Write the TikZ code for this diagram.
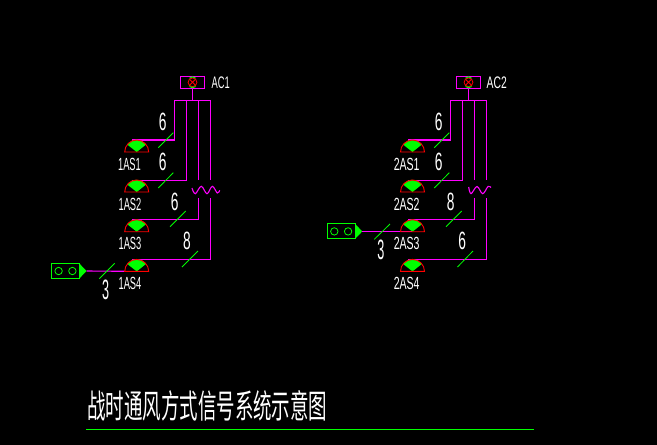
\documentclass[tikz,border=0pt]{standalone}
\usepackage{graphicx}
\usepackage{fontspec}
\setmainfont{Liberation Sans}
\newfontfamily\cjkfont{Noto Sans CJK SC}
\definecolor{mag}{RGB}{255,0,255}
\definecolor{grn}{RGB}{0,255,0}
\tikzset{
  wire/.style={draw=mag,line width=1.1pt},
  tick/.style={draw=grn,line width=0.8pt},
  lbl/.style={text=white,inner sep=0pt,font=\fontsize{17.6}{17.6}\selectfont},
  num/.style={text=white,inner sep=0pt,font=\fontsize{25}{25}\selectfont},
  bignum/.style={text=white,inner sep=0pt,font=\fontsize{28}{28}\selectfont},
  tag/.style={text=white,inner sep=0pt,font=\fontsize{16.7}{16.7}\selectfont},
  ttl/.style={text=white,inner sep=0pt,font=\cjkfont\fontsize{33}{33}\selectfont},
}
\newcommand{\thintxt}[2][0.55]{\scalebox{#1}[1]{#2}}
% icon: name, x, y of base
\newcommand{\lampicon}[3]{%
  \coordinate (#1) at (#2-5,#3-12);
  \fill[grn] (#2,#3) -- (#2-9.5,#3-7.5) arc[start angle=218,end angle=322,radius=12] -- cycle;
  \draw[red,line width=0.9pt] (#2-12,#3) arc[start angle=180,end angle=360,radius=12] -- cycle;
}
\newcommand{\acbox}[3]{%
  \node[draw=mag,line width=1.1pt,minimum width=24.4pt,minimum height=12pt,inner sep=0pt] (#1) at (#2,#3) {};
  \draw[red,line width=0.8pt] (#2,#3) circle[radius=4.4pt];
  \draw[red,line width=0.8pt] (#2-3,#3-3) -- (#2+3,#3+3) (#2-3,#3+3) -- (#2+3,#3-3);
  \draw[grn,line width=1pt] (#2-3,#3-4.2) arc[start angle=225,end angle=315,radius=4.3];
  \draw[grn,line width=1pt] (#2-3,#3+4.2) arc[start angle=135,end angle=45,radius=4.3];
}
\newcommand{\sigbox}[3]{%
  \node[draw=grn,line width=1.1pt,minimum width=28.4pt,minimum height=15pt,inner sep=0pt] (#1) at (#2,#3) {};
  \draw[grn,line width=0.8pt] (#2-7,#3) circle[radius=3.7pt] (#2+6.8,#3) circle[radius=3.7pt];
  \fill[grn] (#2+14.2,#3-7) -- (#2+21,#3) -- (#2+14.2,#3+7) -- cycle;
  \coordinate (#1tip) at (#2+21,#3);
}
\begin{document}
\begin{tikzpicture}[x=1pt,y=-1pt]
\useasboundingbox (0,0) rectangle (657,445);
\fill[black] (0,0) rectangle (657,445);

%% left panel
\acbox{acA}{192.5}{82.3}
\coordinate (busA1) at (174.3,100.3);
\coordinate (busA2) at (186.3,100.3);
\coordinate (busA3) at (198.3,100.3);
\coordinate (busA4) at (210.3,100.3);
\coordinate (stemA) at (192.5,100.3);
\coordinate (wA3t) at (198.3,180.3);
\coordinate (wA4t) at (210.3,180.3);
\coordinate (wA3b) at (198.3,198);
\coordinate (wA4b) at (210.3,198);
\coordinate (aA) at (131.7,140);
\coordinate (bA) at (131.7,180.3);
\coordinate (cA) at (131.7,219.5);
\coordinate (dA) at (131.7,259.4);
\draw[wire] (acA.south) -- (stemA);
\draw[wire] (busA1) -- (busA4);
\draw[wire] (busA1) |- (aA);
\draw[wire] (busA2) |- (bA);
\draw[wire] (busA3) -- (wA3t);
\draw[wire] (busA4) -- (wA4t);
\draw[wire] (wA3b) |- (cA);
\draw[wire] (wA4b) |- (dA);
\draw[wire] plot[smooth,tension=0.6] coordinates {(192,188) (195.3,193.7) (201.3,186.3) (207,193.7) (212.3,186.3) (217.3,193) (219.7,190.3)};
\sigbox{sA}{65.6}{271}
\coordinate (eA) at (124.7,271.3);
\draw[wire] (sAtip) -- (eA);
\lampicon{iaA}{136.7}{152}
\lampicon{ibA}{136.7}{192}
\lampicon{icA}{136.7}{231.7}
\lampicon{idA}{136.7}{271.4}
\draw[tick] (158.3,147.7) -- (173.3,132.7);
\draw[tick] (158.3,188) -- (173.3,172.7);
\draw[tick] (170,226.7) -- (185.7,211);
\draw[tick] (182,267) -- (198,251);
\draw[tick] (99.3,278.7) -- (114.7,263.3);
\node[lbl] (lA1) at (129.5,164.3) {\thintxt[0.53]{1AS1}};
\node[lbl] (lA2) at (130,204) {\thintxt[0.53]{1AS2}};
\node[lbl] (lA3) at (130,243.5) {\thintxt[0.53]{1AS3}};
\node[lbl] (lA4) at (130,283.5) {\thintxt[0.53]{1AS4}};
\node[num] (nA1) at (162.7,121.7) {\thintxt{6}};
\node[num] (nA2) at (162.7,162.3) {\thintxt{6}};
\node[num] (nA3) at (174.7,201.7) {\thintxt{6}};
\node[num] (nA4) at (187,241) {\thintxt{8}};
\node[bignum] (nA5) at (105.7,290) {\thintxt[0.45]{3}};
\node[tag] (tA) at (220.7,83) {\thintxt[0.56]{AC1}};

%% right panel
\acbox{acB}{468.5}{82.3}
\coordinate (busB1) at (450.3,100.3);
\coordinate (busB2) at (462.3,100.3);
\coordinate (busB3) at (474.3,100.3);
\coordinate (busB4) at (486.3,100.3);
\coordinate (stemB) at (468.5,100.3);
\coordinate (wB3t) at (474.3,180.3);
\coordinate (wB4t) at (486.3,180.3);
\coordinate (wB3b) at (474.3,198);
\coordinate (wB4b) at (486.3,198);
\coordinate (aB) at (407.5,140);
\coordinate (bB) at (407.5,180.3);
\coordinate (cB) at (407.5,219.5);
\coordinate (dB) at (407.5,259.4);
\draw[wire] (acB.south) -- (stemB);
\draw[wire] (busB1) -- (busB4);
\draw[wire] (busB1) |- (aB);
\draw[wire] (busB2) |- (bB);
\draw[wire] (busB3) -- (wB3t);
\draw[wire] (busB4) -- (wB4t);
\draw[wire] (wB3b) |- (cB);
\draw[wire] (wB4b) |- (dB);
\draw[wire] plot[smooth,tension=0.6] coordinates {(468.7,187) (471,193.7) (477,186.5) (482.7,193.7) (488,186.5) (491,187.5)};
\sigbox{sB}{341.3}{231.4}
\coordinate (eB) at (412,231.4);
\draw[wire] (sBtip) -- (eB);
\lampicon{iaB}{412.5}{152}
\lampicon{ibB}{412.5}{192}
\lampicon{icB}{412.5}{231.7}
\lampicon{idB}{412.5}{271.4}
\draw[tick] (434.3,147.7) -- (449.3,132.7);
\draw[tick] (434.3,188) -- (449.3,172.7);
\draw[tick] (446,226.7) -- (461.7,211);
\draw[tick] (457.5,267) -- (473,251);
\draw[tick] (374.3,239.3) -- (390,224);
\node[lbl] (lB1) at (406.7,164.3) {\thintxt[0.6]{2AS1}};
\node[lbl] (lB2) at (406.7,204) {\thintxt[0.6]{2AS2}};
\node[lbl] (lB3) at (406.7,243.5) {\thintxt[0.6]{2AS3}};
\node[lbl] (lB4) at (406.7,283.5) {\thintxt[0.6]{2AS4}};
\node[num] (nB1) at (438.7,122) {\thintxt{6}};
\node[num] (nB2) at (438.7,162.3) {\thintxt{6}};
\node[num] (nB3) at (450.7,202) {\thintxt{8}};
\node[num] (nB4) at (462.3,241) {\thintxt{6}};
\node[bignum] (nB5) at (381,249.5) {\thintxt[0.45]{3}};
\node[tag] (tB) at (496.7,83) {\thintxt[0.62]{AC2}};

%% title
\node[ttl] (title) at (207.3,405.5) {\scalebox{0.56}[1]{战时通风方式信号系统示意图}};
\coordinate (ulL) at (86,429.3);
\coordinate (ulR) at (533.7,429.3);
\draw[draw=grn,line width=0.9pt] (ulL) -- (ulR);
\end{tikzpicture}
\end{document}
